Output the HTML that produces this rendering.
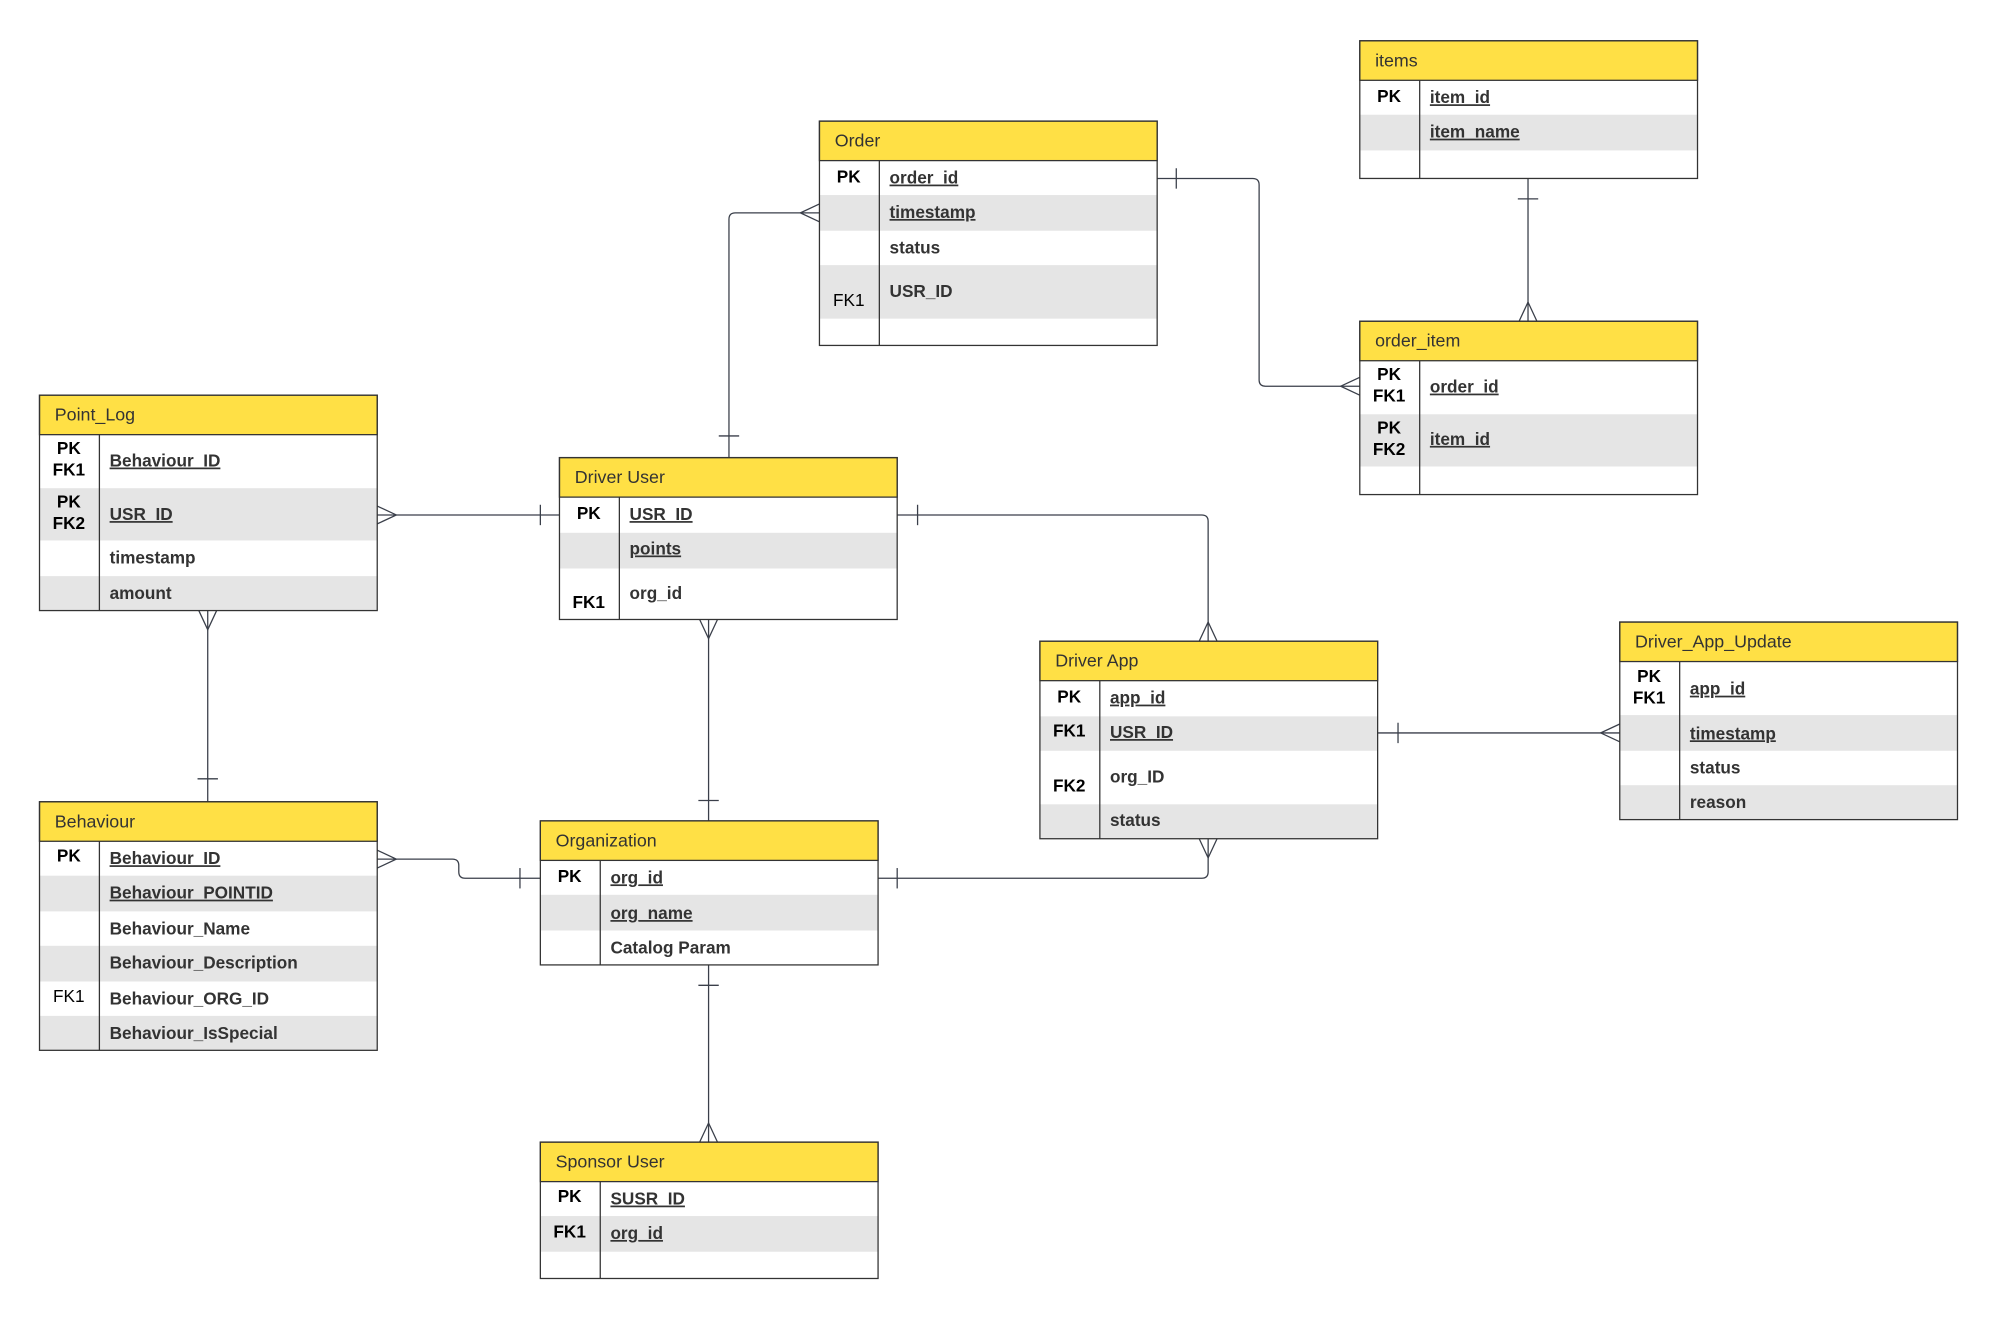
<!DOCTYPE html>
<html><head><meta charset="utf-8"><style>
html,body{margin:0;padding:0;background:#fff;}
svg{display:block;}
.h{font-family:"Liberation Sans",sans-serif;font-size:14px;fill:#333;}
.k{font-family:"Liberation Sans",sans-serif;font-size:13.5px;font-weight:bold;fill:#000;text-anchor:middle;}
.kn{font-family:"Liberation Sans",sans-serif;font-size:13.5px;fill:#000;text-anchor:middle;}
.a{font-family:"Liberation Sans",sans-serif;font-size:13.5px;font-weight:bold;fill:#333;}
.u{text-decoration:underline;}
.hd{fill:#ffe045;stroke:#333;stroke-width:1;}
.g{fill:#e5e5e5;}
.bx{fill:none;stroke:#333;stroke-width:1;}
.c{fill:none;stroke:#3a3f4a;stroke-width:1;}
</style></head><body>
<svg width="1997" height="1318" viewBox="0 0 1567 1034" preserveAspectRatio="none" xmlns="http://www.w3.org/2000/svg">
<rect width="1567" height="1034" fill="#fff"/>

<path class="c" d="M643,167 H577 Q572,167 572,172 V359"/>
<path class="c" d="M643,160 L628,167 L643,174"/>
<path class="c" d="M564,342 H580"/>
<path class="c" d="M908,140 H983 Q988,140 988,145 V298 Q988,303 993,303 H1067"/>
<path class="c" d="M923,132 V148"/>
<path class="c" d="M1067,296 L1052,303 L1067,310"/>
<path class="c" d="M1199,140 V252"/>
<path class="c" d="M1191,156 H1207"/>
<path class="c" d="M1192,252 L1199,237 L1206,252"/>
<path class="c" d="M296,404 H439"/>
<path class="c" d="M296,397 L311,404 L296,411"/>
<path class="c" d="M424,396 V412"/>
<path class="c" d="M163,479 V629"/>
<path class="c" d="M156,479 L163,494 L170,479"/>
<path class="c" d="M155,611 H171"/>
<path class="c" d="M556,486 V644"/>
<path class="c" d="M549,486 L556,501 L563,486"/>
<path class="c" d="M548,628 H564"/>
<path class="c" d="M704,404 H943 Q948,404 948,409 V503"/>
<path class="c" d="M720,396 V412"/>
<path class="c" d="M941,503 L948,488 L955,503"/>
<path class="c" d="M296,674 H355 Q360,674 360,679 V684 Q360,689 365,689 H424"/>
<path class="c" d="M296,667 L311,674 L296,681"/>
<path class="c" d="M408,681 V697"/>
<path class="c" d="M689,689 H943 Q948,689 948,684 V658"/>
<path class="c" d="M704,681 V697"/>
<path class="c" d="M941,658 L948,673 L955,658"/>
<path class="c" d="M1081,575 H1271"/>
<path class="c" d="M1097,567 V583"/>
<path class="c" d="M1271,568 L1256,575 L1271,582"/>
<path class="c" d="M556,757 V896"/>
<path class="c" d="M548,773 H564"/>
<path class="c" d="M549,896 L556,881 L563,896"/>

<rect class="g" x="643" y="153" width="265" height="28"/>
<rect class="g" x="643" y="208" width="265" height="42"/>
<rect class="hd" x="643" y="95" width="265" height="31"/>
<rect class="bx" x="643" y="95" width="265" height="176"/>
<line class="bx" x1="690" y1="126" x2="690" y2="271"/>
<text class="h" x="655" y="115">Order</text>
<text class="k" x="666" y="143">PK</text>
<text class="a u" x="698" y="144">order_id</text>
<text class="a u" x="698" y="171">timestamp</text>
<text class="a" x="698" y="199">status</text>
<text class="kn" x="666" y="240">FK1</text>
<text class="a" x="698" y="233">USR_ID</text>

<rect class="g" x="1067" y="90" width="265" height="28"/>
<rect class="hd" x="1067" y="32" width="265" height="31"/>
<rect class="bx" x="1067" y="32" width="265" height="108"/>
<line class="bx" x1="1114" y1="63" x2="1114" y2="140"/>
<text class="h" x="1079" y="52">items</text>
<text class="k" x="1090" y="80">PK</text>
<text class="a u" x="1122" y="81">item_id</text>
<text class="a u" x="1122" y="108">item_name</text>

<rect class="g" x="1067" y="325" width="265" height="41"/>
<rect class="hd" x="1067" y="252" width="265" height="31"/>
<rect class="bx" x="1067" y="252" width="265" height="136"/>
<line class="bx" x1="1114" y1="283" x2="1114" y2="388"/>
<text class="h" x="1079" y="272">order_item</text>
<text class="k" x="1090" y="298">PK</text>
<text class="k" x="1090" y="315">FK1</text>
<text class="a u" x="1122" y="308">order_id</text>
<text class="k" x="1090" y="340">PK</text>
<text class="k" x="1090" y="357">FK2</text>
<text class="a u" x="1122" y="349">item_id</text>

<rect class="g" x="31" y="383" width="265" height="41"/>
<rect class="g" x="31" y="452" width="265" height="27"/>
<rect class="hd" x="31" y="310" width="265" height="31"/>
<rect class="bx" x="31" y="310" width="265" height="169"/>
<line class="bx" x1="78" y1="341" x2="78" y2="479"/>
<text class="h" x="43" y="330">Point_Log</text>
<text class="k" x="54" y="356">PK</text>
<text class="k" x="54" y="373">FK1</text>
<text class="a u" x="86" y="366">Behaviour_ID</text>
<text class="k" x="54" y="398">PK</text>
<text class="k" x="54" y="415">FK2</text>
<text class="a u" x="86" y="408">USR_ID</text>
<text class="a" x="86" y="442">timestamp</text>
<text class="a" x="86" y="470">amount</text>

<rect class="g" x="439" y="418" width="265" height="28"/>
<rect class="hd" x="439" y="359" width="265" height="31"/>
<rect class="bx" x="439" y="359" width="265" height="127"/>
<line class="bx" x1="486" y1="390" x2="486" y2="486"/>
<text class="h" x="451" y="379">Driver User</text>
<text class="k" x="462" y="407">PK</text>
<text class="a u" x="494" y="408">USR_ID</text>
<text class="a u" x="494" y="435">points</text>
<text class="k" x="462" y="477">FK1</text>
<text class="a" x="494" y="470">org_id</text>

<rect class="g" x="816" y="562" width="265" height="27"/>
<rect class="g" x="816" y="631" width="265" height="27"/>
<rect class="hd" x="816" y="503" width="265" height="31"/>
<rect class="bx" x="816" y="503" width="265" height="155"/>
<line class="bx" x1="863" y1="534" x2="863" y2="658"/>
<text class="h" x="828" y="523">Driver App</text>
<text class="k" x="839" y="551">PK</text>
<text class="a u" x="871" y="552">app_id</text>
<text class="k" x="839" y="578">FK1</text>
<text class="a u" x="871" y="579">USR_ID</text>
<text class="k" x="839" y="621">FK2</text>
<text class="a" x="871" y="614">org_ID</text>
<text class="a" x="871" y="648">status</text>

<rect class="g" x="1271" y="561" width="265" height="28"/>
<rect class="g" x="1271" y="616" width="265" height="27"/>
<rect class="hd" x="1271" y="488" width="265" height="31"/>
<rect class="bx" x="1271" y="488" width="265" height="155"/>
<line class="bx" x1="1318" y1="519" x2="1318" y2="643"/>
<text class="h" x="1283" y="508">Driver_App_Update</text>
<text class="k" x="1294" y="535">PK</text>
<text class="k" x="1294" y="552">FK1</text>
<text class="a u" x="1326" y="545">app_id</text>
<text class="a u" x="1326" y="580">timestamp</text>
<text class="a" x="1326" y="607">status</text>
<text class="a" x="1326" y="634">reason</text>

<rect class="g" x="31" y="687" width="265" height="28"/>
<rect class="g" x="31" y="742" width="265" height="28"/>
<rect class="g" x="31" y="797" width="265" height="27"/>
<rect class="hd" x="31" y="629" width="265" height="31"/>
<rect class="bx" x="31" y="629" width="265" height="195"/>
<line class="bx" x1="78" y1="660" x2="78" y2="824"/>
<text class="h" x="43" y="649">Behaviour</text>
<text class="k" x="54" y="676">PK</text>
<text class="a u" x="86" y="678">Behaviour_ID</text>
<text class="a u" x="86" y="705">Behaviour_POINTID</text>
<text class="a" x="86" y="733">Behaviour_Name</text>
<text class="a" x="86" y="760">Behaviour_Description</text>
<text class="kn" x="54" y="786">FK1</text>
<text class="a" x="86" y="788">Behaviour_ORG_ID</text>
<text class="a" x="86" y="815">Behaviour_IsSpecial</text>

<rect class="g" x="424" y="702" width="265" height="28"/>
<rect class="hd" x="424" y="644" width="265" height="31"/>
<rect class="bx" x="424" y="644" width="265" height="113"/>
<line class="bx" x1="471" y1="675" x2="471" y2="757"/>
<text class="h" x="436" y="664">Organization</text>
<text class="k" x="447" y="692">PK</text>
<text class="a u" x="479" y="693">org_id</text>
<text class="a u" x="479" y="721">org_name</text>
<text class="a" x="479" y="748">Catalog Param</text>

<rect class="g" x="424" y="954" width="265" height="28"/>
<rect class="hd" x="424" y="896" width="265" height="31"/>
<rect class="bx" x="424" y="896" width="265" height="107"/>
<line class="bx" x1="471" y1="927" x2="471" y2="1003"/>
<text class="h" x="436" y="916">Sponsor User</text>
<text class="k" x="447" y="943">PK</text>
<text class="a u" x="479" y="945">SUSR_ID</text>
<text class="k" x="447" y="971">FK1</text>
<text class="a u" x="479" y="972">org_id</text>
</svg>
</body></html>
